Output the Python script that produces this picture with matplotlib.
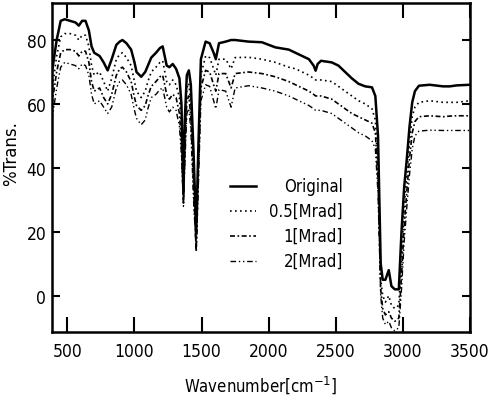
import matplotlib
matplotlib.use("Agg")
import matplotlib.pyplot as plt
from matplotlib.lines import Line2D

# wavenumber grid (cm^-1)
wn = [385, 420, 450, 480, 520, 560, 585, 610, 635, 660,
      680, 700, 740, 770, 800, 830, 865, 890, 910, 940,
      975, 1000, 1015, 1050, 1080, 1100, 1125, 1160, 1190, 1210,
      1240, 1260, 1285, 1310, 1335, 1350, 1365, 1375, 1390, 1405,
      1420, 1440, 1460, 1475, 1495, 1530, 1560, 1590, 1606, 1630,
      1680, 1720, 1750, 1850, 1950, 2050, 2150, 2200, 2250, 2300,
      2335, 2350, 2365, 2390, 2470, 2520, 2570, 2620, 2670, 2720,
      2770, 2795, 2815, 2835, 2850, 2870, 2895, 2915, 2940, 2970,
      2990, 3010, 3030, 3050, 3070, 3090, 3120, 3200, 3300, 3350,
      3400, 3500]

# %Trans. for each sample
original = [70, 80, 86, 86.5, 86, 85.5, 84.5, 86, 86, 83,
            78, 76, 75, 73, 70.5, 74, 78.5, 79.5, 80, 79,
            77, 73, 70, 68.5, 70, 72, 74.5, 76, 77.5, 78,
            72, 71.5, 72.5, 71, 68, 60, 32, 55, 69, 70.5,
            66, 45, 20, 45, 74, 79.5, 79, 76, 74, 79,
            79.5, 80, 80, 79.5, 79.3, 77.7, 77, 76, 75, 74,
            72, 70.4, 72.5, 73.5, 73, 72, 70, 68, 66.3, 65.5,
            65.2, 62.5, 50, 10, 5, 5, 8, 3, 2, 2,
            20, 34, 43, 53, 60.5, 64, 65.7, 66, 65.5, 65.5,
            65.8, 66]

mrad05 = [64, 75, 81, 82, 82, 81.5, 80, 81.5, 81.5, 78,
          72, 69, 70, 67, 64, 68, 74, 75.5, 76, 74.5,
          72, 67, 64, 62, 64, 67, 70, 71.5, 73, 73.5,
          67, 66, 67.5, 66, 62, 52, 30, 48, 65, 66.5,
          60, 38, 15, 40, 69, 75, 74.5, 71, 69, 74,
          74, 71, 74.5, 74.6, 74, 73, 71.5, 71, 70, 69,
          68, 67.5, 67.5, 67.5, 67, 65.5, 64, 62.5, 61, 60,
          58.5, 55, 40, 5, 0, -2, 0, -3, -4, -3,
          12, 28, 38, 48, 56, 59, 60.5, 61, 60.5, 60.5,
          60.5, 61]

mrad1 = [60, 70, 76, 77, 77, 76.5, 75, 76.5, 76.5, 73,
         67, 64, 65, 62, 60, 63, 69, 71, 71.5, 70,
         67, 62, 59.5, 58, 59.5, 62.5, 65.5, 67, 68.5, 69,
         63, 61.5, 63, 62, 57, 47, 29, 44, 61, 62.5,
         56, 34, 14, 36, 65, 70.5, 70, 66, 64, 69.5,
         69.5, 65, 69.5, 70, 69.5, 68.5, 67, 66, 65, 64,
         63, 62.5, 62.5, 62.5, 61.5, 60, 58.5, 57, 56, 55,
         54, 51, 36, 2, -4, -6, -5, -7, -8, -7,
         6, 22, 33, 43, 51, 54.5, 56, 56.3, 56, 56.2,
         56.3, 56.3]

mrad2 = [55, 65, 71.5, 73, 72.5, 72, 71, 72.5, 72, 69,
         63, 60, 61, 59, 57, 59, 65, 67, 67.5, 66,
         63, 58, 55.5, 53.5, 55, 58.5, 62, 63, 64.5, 65,
         59, 57.5, 59, 58, 53, 44, 28, 41, 57, 58.5,
         52, 30, 14, 33, 61, 66, 65.5, 61, 58.5, 64.5,
         64, 59, 65, 65.7, 65, 64, 62.5, 61.5, 60.5, 59.5,
         58.5, 58, 58, 58, 57, 55.5, 54, 52.5, 51, 50,
         48.5, 46, 32, 0, -7, -9, -8, -10, -11, -10,
         2, 17, 28, 38, 46, 50, 51.5, 51.8, 51.7, 51.7,
         51.7, 51.7]

labels = ['Original', '0.5[Mrad]', '1[Mrad]', '2[Mrad]']
xticks = [500, 1000, 1500, 2000, 2500, 3000, 3500]
yticks = [0, 20, 40, 60, 80]

styles = [dict(lw=1.8, ls='-'),
          dict(lw=1.2, ls=(0, (1, 2))),
          dict(lw=1.2, ls=(0, (3, 1.5, 1, 1.5))),
          dict(lw=1.0, ls=(0, (4, 2, 1, 2, 1, 2)))]

font = dict(family='DejaVu Sans', stretch='condensed')

fig = plt.figure(figsize=(4.89, 4.02), dpi=100)
ax = fig.add_axes([0.106, 0.172, 0.855, 0.819])

for ys, st in zip([original, mrad05, mrad1, mrad2], styles):
    ax.plot(wn, ys, color='black', **st)

ax.set_xlim(384, 3500)
ax.set_ylim(-11.3, 91.7)
ax.set_xticks(xticks)
ax.set_yticks(yticks)

for s in ax.spines.values():
    s.set_linewidth(1.8)

ax.tick_params(axis='x', direction='in', length=11, width=1.5, top=True, pad=7)
ax.tick_params(axis='y', direction='in', length=6, width=1.5, right=True, pad=4)
for t in ax.get_xticklabels() + ax.get_yticklabels():
    t.set_fontsize(12.5)
    t.set_fontstretch('condensed')

ax.set_xlabel('Wavenumber[cm$^{-1}$]', fontsize=12, labelpad=10, **font)
ax.set_ylabel('%Trans.', fontsize=12)
ax.yaxis.set_label_coords(-0.076, 0.546)

# legend: short samples with right-aligned labels
rows_y = [187, 212, 237, 262]
for st, lab, py in zip(styles, labels, rows_y):
    yf = 1 - py / 402
    fig.add_artist(Line2D([230 / 489, 256 / 489], [yf, yf],
                          transform=fig.transFigure, color='black', **st))
    fig.text(343 / 489, yf, lab, ha='right', va='center', fontsize=12, **font)

fig.savefig('out.png', dpi=100)
